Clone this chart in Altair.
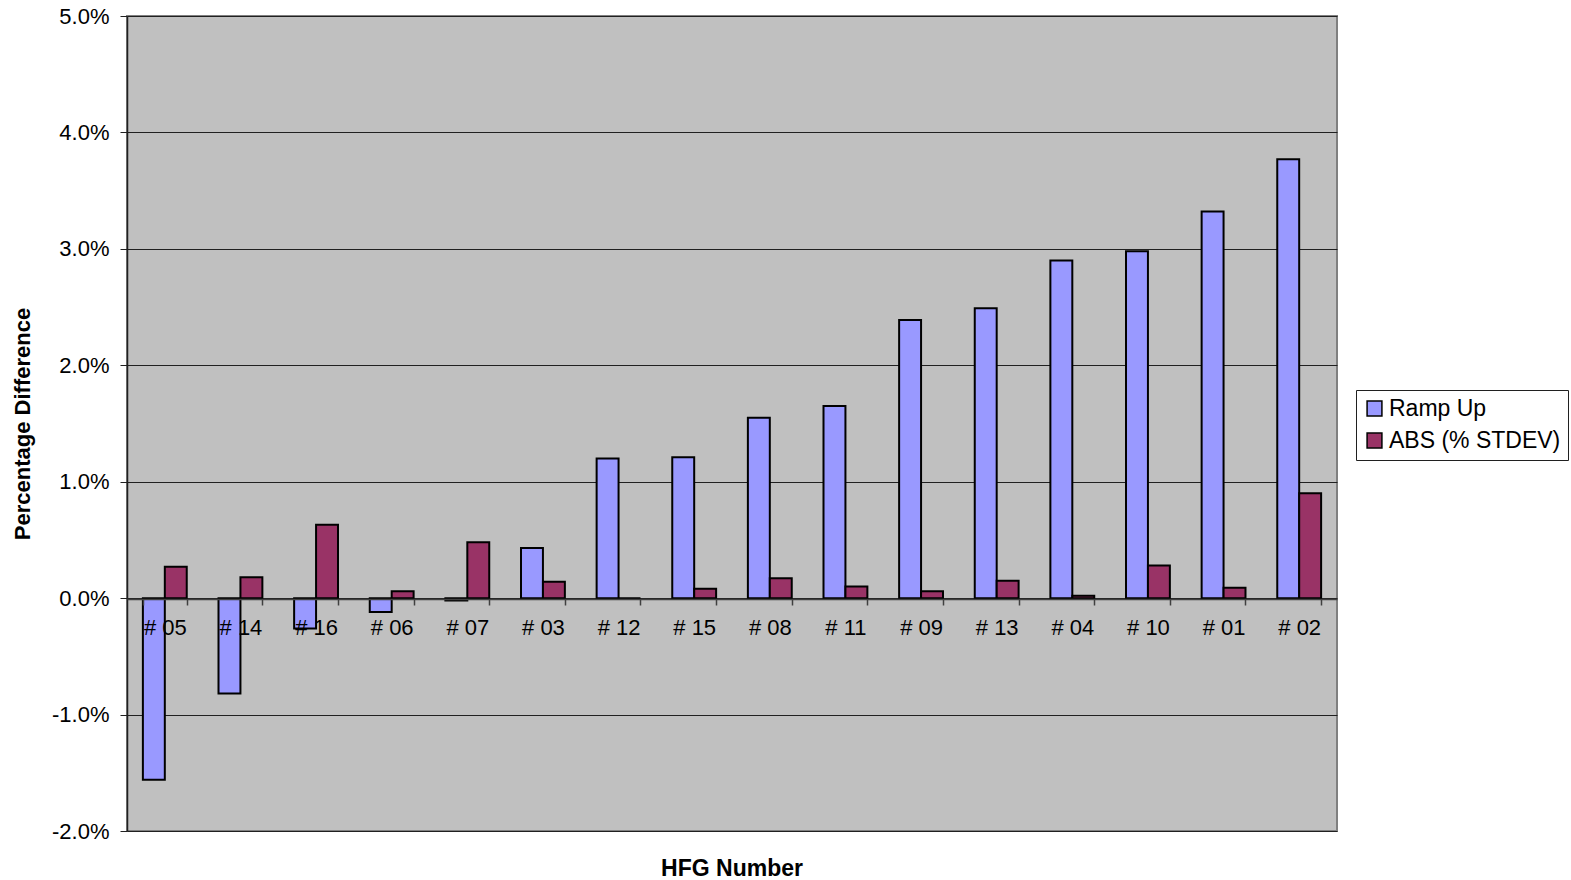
import altair as alt
import pandas as pd

# HFG numbers, in plotted order
hfg = ["# 05", "# 14", "# 16", "# 06", "# 07", "# 03", "# 12", "# 15",
       "# 08", "# 11", "# 09", "# 13", "# 04", "# 10", "# 01", "# 02"]

# Percentage differences (as fractions)
ramp_up = [-0.0156, -0.0082, -0.0026, -0.0012, -0.0002, 0.0043, 0.0120, 0.0121,
           0.0155, 0.0165, 0.0239, 0.0249, 0.0290, 0.0298, 0.0332, 0.0377]
abs_stdev = [0.0027, 0.0018, 0.0063, 0.0006, 0.0048, 0.0014, 0.0000, 0.0008,
             0.0017, 0.0010, 0.0006, 0.0015, 0.0002, 0.0028, 0.0009, 0.0090]

series = ["Ramp Up", "ABS (% STDEV)"]
colors = ["#9999FF", "#993366"]

rows = []
for i, h in enumerate(hfg):
    rows.append({"hfg": h, "series": series[0], "value": ramp_up[i]})
    rows.append({"hfg": h, "series": series[1], "value": abs_stdev[i]})
df = pd.DataFrame(rows)

FONT = "Liberation Sans"

bars = alt.Chart(df).mark_bar(stroke="black", strokeWidth=2).encode(
    x=alt.X("hfg:N", sort=hfg,
            scale=alt.Scale(paddingInner=0.42, paddingOuter=0.21),
            axis=alt.Axis(title=None, labelAngle=0, labelFontSize=22,
                          labelColor="black", labelFont=FONT,
                          domain=True, domainColor="#404040", domainWidth=1.5,
                          ticks=True, tickBand="extent", tickSize=6,
                          tickColor="#404040", tickWidth=1.5,
                          labelPadding=12, offset=-232, grid=False,
                          zindex=1)),
    xOffset=alt.XOffset("series:N", sort=series),
    y=alt.Y("value:Q",
            scale=alt.Scale(domain=[-0.02, 0.05], nice=False),
            axis=alt.Axis(title="Percentage Difference", format=".1%",
                          labelExpr="replace(datum.label, '\u2212', '-')",
                          values=[-0.02, -0.01, 0, 0.01, 0.02, 0.03, 0.04, 0.05],
                          labelFontSize=22, labelColor="black", labelFont=FONT,
                          titleFontSize=22, titleFont=FONT, titleFontWeight="bold",
                          titleColor="black", titlePadding=17,
                          domainColor="#202020", domainWidth=1.5,
                          tickColor="#202020", tickSize=7, labelPadding=11,
                          grid=True, gridColor="#202020", gridWidth=1)),
    color=alt.Color("series:N", sort=series,
                    scale=alt.Scale(domain=series, range=colors),
                    legend=alt.Legend(title=None, orient="none",
                                      legendX=1229, legendY=374,
                                      labelFontSize=23, labelFont=FONT,
                                      labelColor="black", labelOffset=3,
                                      labelLimit=400,
                                      symbolType="square", symbolSize=220,
                                      symbolStrokeColor="black",
                                      symbolStrokeWidth=1.5,
                                      strokeColor="#202020", fillColor="white",
                                      padding=7, rowPadding=8)),
)

chart = bars.properties(
    width=1210,
    height=815,
    title=alt.TitleParams("HFG Number", orient="bottom", fontSize=23,
                          font=FONT, fontWeight="bold", color="black",
                          offset=16),
    padding={"left": 127, "top": 16, "right": 234, "bottom": 49},
    autosize=alt.AutoSizeParams(type="none"),
    background="white",
).configure_view(
    fill="#C0C0C0", stroke="#808080", strokeWidth=2
)

chart.save("out.html", embed_options={"renderer": "svg", "actions": False})
